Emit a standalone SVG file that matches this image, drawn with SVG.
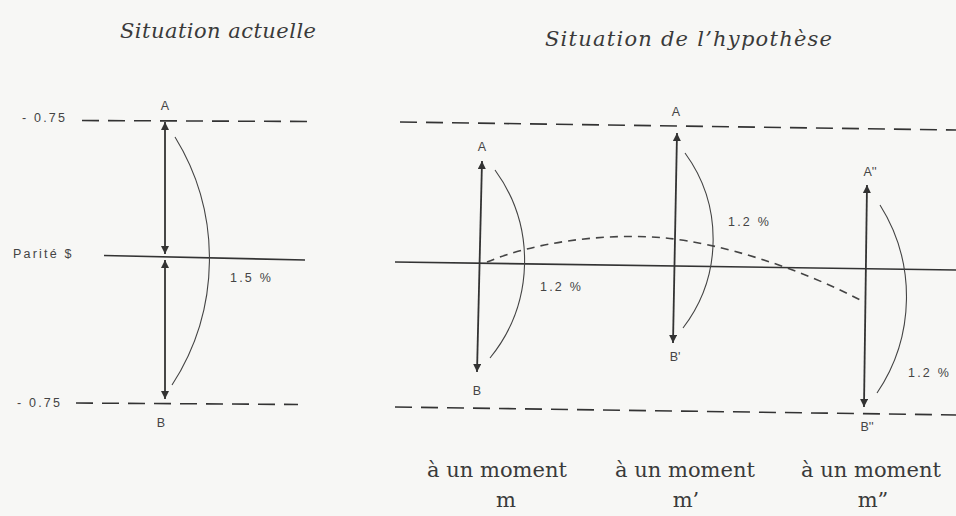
<svg xmlns="http://www.w3.org/2000/svg" width="956" height="516" viewBox="0 0 956 516">
<style>
.bg{fill:#f7f7f5}
.t{font-family:"Liberation Sans",Arial,sans-serif;font-size:12.5px;letter-spacing:2.2px;fill:#444}
.tc{text-anchor:middle;letter-spacing:0}
.title{font-family:"DejaVu Serif","Liberation Serif",serif;font-style:italic;font-size:21px;fill:#3a3a3a}
.lab{font-family:"DejaVu Serif","Liberation Serif",serif;font-size:21px;fill:#3a3a3a;text-anchor:middle}
.dash{fill:none;stroke:#333;stroke-width:1.6;stroke-dasharray:17 9}
.axis{fill:none;stroke:#333;stroke-width:1.6}
.arr{fill:none;stroke:#333;stroke-width:1.8;marker-start:url(#ah);marker-end:url(#ah)}
.arc{fill:none;stroke:#444;stroke-width:1.1}
.dcurve{fill:none;stroke:#444;stroke-width:1.6;stroke-dasharray:8 6}
</style>
<defs>
<marker id="ah" viewBox="0 0 10 10" refX="10" refY="5" markerUnits="userSpaceOnUse" markerWidth="10" markerHeight="8" orient="auto-start-reverse">
<path d="M0,0 L10,5 L0,10 z" fill="#333"/>
</marker>
</defs>
<rect class="bg" x="0" y="0" width="956" height="516"/>

<g id="titles">
<text class="title" x="120" y="38" textLength="196" lengthAdjust="spacing">Situation actuelle</text>
<text class="title" x="545" y="46" textLength="287" lengthAdjust="spacing">Situation de l’hypothèse</text>
</g>

<g id="connectors">
<!-- left panel -->
<path class="dash" d="M82,120.5 L308,121.5"/>
<path class="dash" d="M76,403 L298,404.5"/>
<path class="axis" d="M104,255.5 L305,260"/>
<path class="arr" d="M165,122 L165,254"/>
<path class="arr" d="M165,260 L165,399"/>
<path class="arc" d="M175,137 A232,232 0 0 1 172,385"/>
<!-- right panel -->
<path class="dash" d="M400,122 L956,130"/>
<path class="dash" d="M395,407 L956,415"/>
<path class="axis" d="M395,262 L956,270"/>
<path class="dcurve" d="M487,262 C530,244 600,232 665,238 C720,243 800,268 864,302"/>
<path class="arr" d="M482,161 L477,372"/>
<path class="arr" d="M677,133 L673,343"/>
<path class="arr" d="M867,185 L864,407"/>
<path class="arc" d="M495,170 A154,154 0 0 1 490,358"/>
<path class="arc" d="M685,153 A146,146 0 0 1 683,328"/>
<path class="arc" d="M880,205 A172,172 0 0 1 877,393"/>
</g>

<g id="node-left">
<text class="t" x="22" y="122">- 0.75</text>
<text class="t" x="13" y="258">Parité $</text>
<text class="t" x="17" y="407">- 0.75</text>
<text class="t tc" x="165" y="110">A</text>
<text class="t tc" x="161" y="427">B</text>
<text class="t" x="230" y="282">1.5 %</text>
</g>

<g id="node-m">
<text class="t tc" x="482" y="151">A</text>
<text class="t tc" x="477" y="395">B</text>
<text class="t" x="540" y="291">1.2 %</text>
<text class="lab" x="497" y="477">à un moment</text>
<text class="lab" x="506" y="507">m</text>
</g>

<g id="node-m1">
<text class="t tc" x="676" y="116">A</text>
<text class="t tc" x="675" y="361">B'</text>
<text class="t" x="728" y="226">1.2 %</text>
<text class="lab" x="685" y="477">à un moment</text>
<text class="lab" x="686" y="507">m’</text>
</g>

<g id="node-m2">
<text class="t tc" x="870" y="176">A''</text>
<text class="t tc" x="867" y="431">B''</text>
<text class="t" x="908" y="377">1.2 %</text>
<text class="lab" x="871" y="477">à un moment</text>
<text class="lab" x="873" y="507">m”</text>
</g>
</svg>
